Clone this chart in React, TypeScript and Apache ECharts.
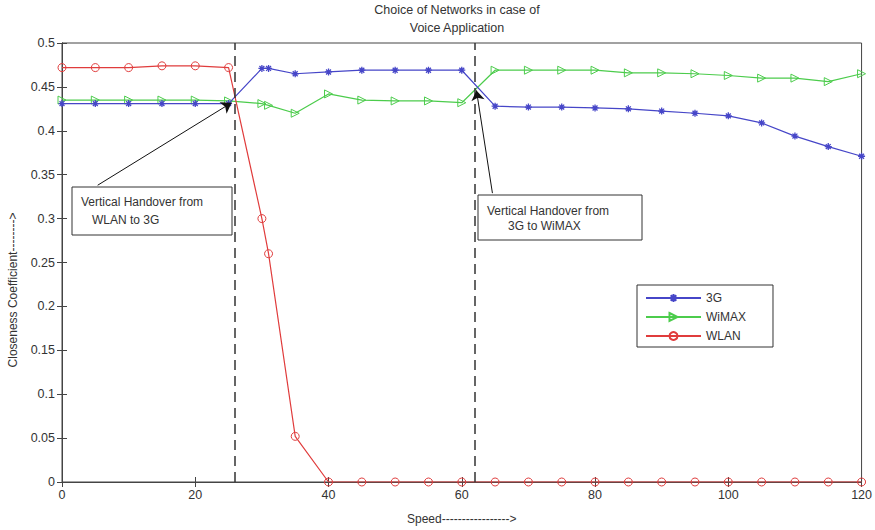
import React, { useEffect, useRef } from "react";
import * as echarts from "echarts";

const speeds = [0, 5, 10, 15, 20, 25, 30, 31, 35, 40, 45, 50, 55, 60, 65, 70, 75, 80, 85, 90, 95, 100, 105, 110, 115, 120];
const g3 = [0.431, 0.431, 0.431, 0.431, 0.431, 0.431, 0.471, 0.471, 0.465, 0.467, 0.469, 0.469, 0.469, 0.469, 0.428, 0.427, 0.427, 0.426, 0.425, 0.4225, 0.42, 0.417, 0.409, 0.394, 0.382, 0.371];
const wimax = [0.435, 0.435, 0.435, 0.435, 0.435, 0.434, 0.431, 0.429, 0.42, 0.442, 0.435, 0.434, 0.434, 0.432, 0.469, 0.469, 0.469, 0.469, 0.466, 0.466, 0.465, 0.463, 0.46, 0.46, 0.456, 0.465];
const wlan = [0.472, 0.472, 0.472, 0.474, 0.474, 0.472, 0.3, 0.26, 0.052, 0, 0, 0, 0, 0, 0, 0, 0, 0, 0, 0, 0, 0, 0, 0, 0, 0];
const seriesNames = ["3G", "WiMAX", "WLAN"];
const handovers = [26, 62];
const arrow1 = [[5.35, 0.338], [25.45, 0.432]];
const arrow2 = [[64.6, 0.329], [62.2, 0.446]];
const titleLines = ["Choice of Networks in case of", "Voice Application"];
const note1 = ["Vertical Handover from", "WLAN to 3G"];
const note2 = ["Vertical Handover from", "3G to WiMAX"];

const FONT = "'Liberation Sans', Arial, sans-serif";
const BLUE = "#4646c8";
const GREEN = "#4ccc4c";
const RED = "#e03c3c";
const TXT = "#333";

const asterisk = "path://M5,0L5,10M0,5L10,5M1.5,1.5L8.5,8.5M1.5,8.5L8.5,1.5";
const rightTri = "path://M0,0L10,5L0,10Z";

function pairs(ys: number[]) {
  return speeds.map((x, i) => [x, ys[i]]);
}

function txt(x: number, y: number, s: string) {
  return {
    type: "text",
    x,
    y,
    style: { text: s, fontSize: 12, fontFamily: FONT, fill: TXT, verticalAlign: "middle", textVerticalAlign: "middle" },
    z: 101,
  };
}

export default function App() {
  const ref = useRef<HTMLDivElement>(null);
  useEffect(() => {
    document.body.style.margin = "0";
    const chart = echarts.init(ref.current!, null, { renderer: "svg" });
    const axisCommon = {
      type: "value",
      splitLine: { show: false },
      axisLine: { show: true, lineStyle: { color: "#444", width: 1 } },
      axisTick: { show: true, inside: true, length: 5, lineStyle: { color: "#444" } },
    };
    chart.setOption({
      animation: false,
      backgroundColor: "#fff",
      textStyle: { fontFamily: FONT },
      grid: { left: 62, right: 13, top: 43, bottom: 42, show: true, borderColor: "#444", borderWidth: 1 },
      xAxis: [
        {
          ...axisCommon,
          min: 0,
          max: 120,
          interval: 20,
          position: "bottom",
          axisLabel: { color: TXT, fontSize: 12.5, margin: 6, fontFamily: FONT },
          name: "Speed----------------->",
          nameLocation: "middle",
          nameGap: 31,
          nameTextStyle: { color: TXT, fontSize: 12, fontFamily: FONT },
        },
        { ...axisCommon, min: 0, max: 120, interval: 20, position: "top", axisLabel: { show: false } },
      ],
      yAxis: [
        {
          ...axisCommon,
          min: 0,
          max: 0.5,
          interval: 0.05,
          position: "left",
          axisLabel: { color: TXT, fontSize: 12.5, margin: 7, fontFamily: FONT },
        },
        { ...axisCommon, min: 0, max: 0.5, interval: 0.05, position: "right", axisLabel: { show: false } },
      ],
      legend: {
        data: seriesNames,
        orient: "vertical",
        left: 637,
        top: 285,
        backgroundColor: "#fff",
        borderColor: "#333",
        borderWidth: 1,
        borderRadius: 0,
        padding: [7, 27, 5, 8],
        itemWidth: 55,
        itemHeight: 10,
        itemGap: 7,
        textStyle: { color: TXT, fontSize: 12, fontFamily: FONT },
      },
      series: [
        {
          name: seriesNames[0],
          type: "line",
          data: pairs(g3),
          symbol: asterisk,
          symbolSize: 7,
          lineStyle: { color: BLUE, width: 1.2 },
          itemStyle: { color: BLUE, borderColor: BLUE, borderWidth: 1.3 },
          markLine: {
            silent: true,
            symbol: ["none", "none"],
            label: { show: false },
            lineStyle: { color: "#333", type: [10, 6], width: 1.5 },
            data: handovers.map((h) => ({ xAxis: h })),
          },
          z: 3,
        },
        {
          name: seriesNames[1],
          type: "line",
          data: pairs(wimax),
          symbol: rightTri,
          symbolSize: 8,
          lineStyle: { color: GREEN, width: 1.2 },
          itemStyle: { color: "rgba(255,255,255,0)", borderColor: GREEN, borderWidth: 1 },
          z: 2,
        },
        {
          name: seriesNames[2],
          type: "line",
          data: pairs(wlan),
          symbol: "circle",
          symbolSize: 8,
          lineStyle: { color: RED, width: 1.2 },
          itemStyle: { color: "rgba(255,255,255,0)", borderColor: RED, borderWidth: 1 },
          markLine: {
            silent: true,
            symbol: ["none", "arrow"],
            symbolSize: 10,
            label: { show: false },
            lineStyle: { color: "#111", type: "solid", width: 1 },
            data: [
              [{ coord: arrow1[0] }, { coord: arrow1[1] }],
              [{ coord: arrow2[0] }, { coord: arrow2[1] }],
            ],
          },
          z: 4,
        },
      ],
      graphic: [
        { type: "text", x: 457, y: 10, style: { text: titleLines[0], fontSize: 12.5, fontFamily: FONT, fill: TXT, align: "center", textAlign: "center", verticalAlign: "middle", textVerticalAlign: "middle" } },
        { type: "text", x: 457, y: 28, style: { text: titleLines[1], fontSize: 12.5, fontFamily: FONT, fill: TXT, align: "center", textAlign: "center", verticalAlign: "middle", textVerticalAlign: "middle" } },
        { type: "text", x: 13, y: 290, rotation: Math.PI / 2, style: { text: "Closeness Coefficient-------->", fontSize: 12, fontFamily: FONT, fill: TXT, align: "center", textAlign: "center", verticalAlign: "middle", textVerticalAlign: "middle" } },
        { type: "rect", shape: { x: 72, y: 187, width: 160, height: 48 }, style: { fill: "#fff", stroke: "#333", lineWidth: 1 }, z: 100 },
        txt(81, 202, note1[0]),
        txt(92, 220, note1[1]),
        { type: "rect", shape: { x: 478, y: 195, width: 164, height: 45 }, style: { fill: "#fff", stroke: "#333", lineWidth: 1 }, z: 100 },
        txt(487, 211, note2[0]),
        txt(508, 226, note2[1]),
      ],
    });
    return () => chart.dispose();
  }, []);
  return <div ref={ref} style={{ width: 875, height: 530 }} />;
}
